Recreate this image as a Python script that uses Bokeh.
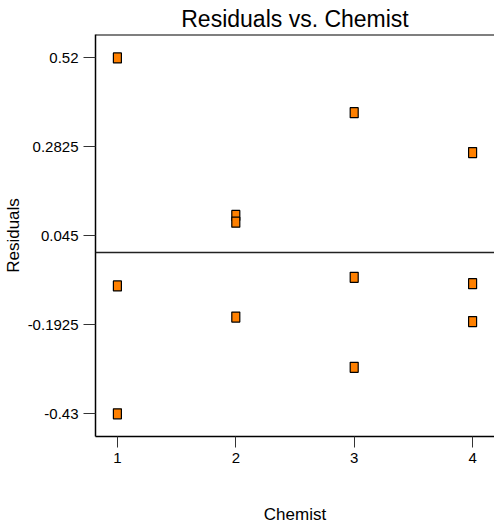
from bokeh.plotting import figure
from bokeh.models import Span, FixedTicker, Range1d, ColumnDataSource
from bokeh.embed import file_html
from bokeh.resources import INLINE

chemist = [1, 1, 1, 2, 2, 2, 3, 3, 3, 4, 4, 4]
residuals = [0.519, -0.089, -0.43, 0.099, 0.081, -0.172, 0.373, -0.066, -0.306, 0.2665, -0.083, -0.184]
y_ticks = [0.52, 0.2825, 0.045, -0.1925, -0.43]
y_tick_labels = ["0.52", "0.2825", "0.045", "-0.1925", "-0.43"]
x_ticks = [1, 2, 3, 4]

FONT = "Liberation Sans"
Y_TOP = 0.5814

p = figure(width=494, height=529, output_backend="svg", toolbar_location=None,
           x_range=Range1d(0.815, 4.185), y_range=Range1d(-0.4906, Y_TOP),
           min_border_left=95, min_border_right=0, min_border_top=34, min_border_bottom=93,
           title="Residuals vs. Chemist")
p.title.text_font = FONT
p.title.text_font_size = "23px"
p.title.text_font_style = "normal"
p.title.align = "center"
p.title.text_color = "black"
p.title.standoff = 6
p.title.offset = 0

p.grid.visible = False
p.outline_line_color = None
p.background_fill_color = "white"
p.border_fill_color = "white"

src = ColumnDataSource(dict(x=chemist, y=residuals))

p.add_layout(Span(location=Y_TOP, dimension="width", line_color="black", line_width=2))
p.add_layout(Span(location=0, dimension="width", line_color="#222222", line_width=1.5))
p.rect("x", "y", width=8, height=10, width_units="screen", height_units="screen",
       source=src, fill_color="#FF8000", line_color="black", line_width=1.2)

for ax in (p.xaxis[0], p.yaxis[0]):
    ax.major_label_text_font = FONT
    ax.major_label_text_font_size = "15px"
    ax.major_label_text_color = "black"
    ax.axis_label_text_font = FONT
    ax.axis_label_text_font_size = "17px"
    ax.axis_label_text_font_style = "normal"
    ax.axis_label_text_color = "black"
    ax.minor_tick_line_color = None
    ax.major_tick_in = 0
    ax.major_tick_line_color = "#333333"
    ax.axis_line_color = "black"
    ax.axis_line_width = 1.5

p.xaxis.ticker = FixedTicker(ticks=x_ticks)
p.xaxis.major_tick_out = 11
p.xaxis.major_label_standoff = 5
p.xaxis.axis_label = "Chemist"
p.xaxis.axis_label_standoff = 39

p.yaxis.ticker = FixedTicker(ticks=y_ticks)
p.yaxis.major_label_overrides = {t: s for t, s in zip(y_ticks, y_tick_labels)}
p.yaxis.major_tick_out = 12
p.yaxis.major_label_standoff = 5
p.yaxis.axis_label = "Residuals"
p.yaxis.axis_label_standoff = 2

open("out.html", "w").write(file_html(p, INLINE))
